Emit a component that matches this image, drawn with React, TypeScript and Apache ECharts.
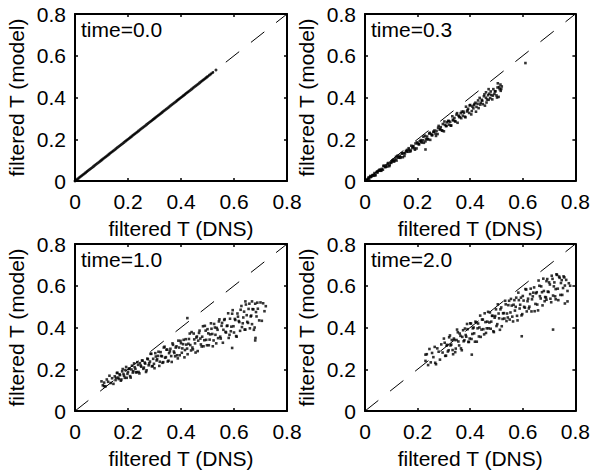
import React, { useEffect, useRef } from "react";
import * as echarts from "echarts";

const axisMin = 0;
const axisMax = 0.8;
const axisStep = 0.2;
const panelTitles = ["time=0.0", "time=0.3", "time=1.0", "time=2.0"];
const xName = "filtered T (DNS)";
const yName = "filtered T (model)";
const diagonal = [[0, 0], [0.8, 0.8]];

const t00: number[][] = [
  [0.000,0.000],[0.005,0.005],[0.010,0.010],[0.015,0.015],[0.020,0.020],[0.025,0.025],[0.030,0.030],[0.035,0.035],[0.040,0.040],[0.045,0.045],
  [0.050,0.050],[0.055,0.055],[0.060,0.060],[0.065,0.065],[0.070,0.070],[0.075,0.075],[0.080,0.080],[0.085,0.085],[0.090,0.090],[0.095,0.095],
  [0.100,0.100],[0.105,0.105],[0.110,0.110],[0.115,0.115],[0.120,0.120],[0.125,0.125],[0.130,0.130],[0.135,0.135],[0.140,0.140],[0.145,0.145],
  [0.150,0.150],[0.155,0.155],[0.160,0.160],[0.165,0.165],[0.170,0.170],[0.175,0.175],[0.180,0.180],[0.185,0.185],[0.190,0.190],[0.195,0.195],
  [0.200,0.200],[0.205,0.205],[0.210,0.210],[0.215,0.215],[0.220,0.220],[0.225,0.225],[0.230,0.230],[0.235,0.235],[0.240,0.240],[0.245,0.245],
  [0.250,0.250],[0.255,0.255],[0.260,0.260],[0.265,0.265],[0.270,0.270],[0.275,0.275],[0.280,0.280],[0.285,0.285],[0.290,0.290],[0.295,0.295],
  [0.300,0.300],[0.305,0.305],[0.310,0.310],[0.315,0.315],[0.320,0.320],[0.325,0.325],[0.330,0.330],[0.335,0.335],[0.340,0.340],[0.345,0.345],
  [0.350,0.350],[0.355,0.355],[0.360,0.360],[0.365,0.365],[0.370,0.370],[0.375,0.375],[0.380,0.380],[0.385,0.385],[0.390,0.390],[0.395,0.395],
  [0.400,0.400],[0.405,0.405],[0.410,0.410],[0.415,0.415],[0.420,0.420],[0.425,0.425],[0.430,0.430],[0.435,0.435],[0.440,0.440],[0.445,0.445],
  [0.450,0.450],[0.455,0.455],[0.460,0.460],[0.465,0.465],[0.470,0.470],[0.475,0.475],[0.480,0.480],[0.485,0.485],[0.490,0.490],[0.495,0.495],
  [0.500,0.500],[0.507,0.507],[0.513,0.513],[0.520,0.520],[0.532,0.532]
];

const t03a: number[][] = [
  [0.004,0.007],[0.008,0.005],[0.012,0.012],[0.016,0.009],[0.020,0.024],[0.024,0.021],[0.028,0.027],[0.032,0.025],[0.036,0.038],[0.040,0.028],
  [0.044,0.041],[0.048,0.041],[0.052,0.050],[0.056,0.055],[0.060,0.051],[0.064,0.058],[0.068,0.054],[0.072,0.073],[0.076,0.067],[0.080,0.075],
  [0.084,0.069],[0.088,0.086],[0.092,0.071],[0.096,0.088],[0.100,0.087],[0.104,0.098],[0.108,0.102],[0.112,0.096],[0.116,0.104],[0.120,0.098],
  [0.124,0.121],[0.128,0.113],[0.132,0.121],[0.136,0.114],[0.140,0.133],[0.144,0.114],[0.148,0.134],[0.152,0.132],[0.156,0.144],[0.160,0.149],
  [0.164,0.140],[0.168,0.150],[0.172,0.141],[0.176,0.169],[0.180,0.158],[0.184,0.167],[0.188,0.157],[0.192,0.180],[0.196,0.156],[0.200,0.180],
  [0.204,0.176],[0.208,0.190],[0.212,0.196],[0.216,0.184],[0.220,0.195],[0.224,0.183],[0.228,0.217],[0.232,0.202],[0.236,0.213],[0.240,0.200],
  [0.244,0.227],[0.248,0.197],[0.252,0.225],[0.256,0.220],[0.260,0.236],[0.264,0.242],[0.268,0.227],[0.272,0.240],[0.276,0.225],[0.280,0.264],
  [0.284,0.246],[0.288,0.258],[0.292,0.243],[0.296,0.273],[0.300,0.238],[0.304,0.269],[0.308,0.263],[0.312,0.281],[0.316,0.287],[0.320,0.270],
  [0.324,0.284],[0.328,0.266],[0.332,0.310],[0.336,0.290],[0.340,0.302],[0.344,0.285],[0.348,0.318],[0.352,0.279],[0.356,0.313],[0.360,0.305],
  [0.364,0.325],[0.368,0.332],[0.372,0.313],[0.376,0.327],[0.380,0.308],[0.384,0.356],[0.388,0.333],[0.392,0.346],[0.396,0.326],[0.400,0.364],
  [0.404,0.319],[0.408,0.357],[0.412,0.348],[0.416,0.369],[0.420,0.375],[0.424,0.355],[0.428,0.370],[0.432,0.349],[0.436,0.398],[0.440,0.375],
  [0.444,0.389],[0.448,0.368],[0.452,0.406],[0.456,0.361],[0.460,0.399],[0.464,0.390],[0.468,0.411],[0.472,0.418],[0.476,0.397],[0.480,0.412],
  [0.484,0.391],[0.488,0.440],[0.492,0.417],[0.496,0.430],[0.500,0.410],[0.504,0.448],[0.508,0.403],[0.512,0.440],[0.516,0.432],[0.520,0.453],
  [0.230,0.151],[0.610,0.565],[0.505,0.468],[0.515,0.462],[0.470,0.440],[0.460,0.425]
];

const t03b: number[][] = [
  [0.006,0.003],[0.014,0.018],[0.022,0.019],[0.030,0.029],[0.038,0.027],[0.046,0.046],[0.054,0.049],[0.062,0.049],[0.070,0.072],[0.078,0.067],
  [0.086,0.082],[0.094,0.076],[0.102,0.093],[0.110,0.093],[0.118,0.116],[0.126,0.112],[0.134,0.111],[0.142,0.131],[0.150,0.120],[0.158,0.141],
  [0.166,0.157],[0.174,0.146],[0.182,0.165],[0.190,0.150],[0.198,0.185],[0.206,0.176],[0.214,0.189],[0.222,0.212],[0.230,0.190],[0.238,0.200],
  [0.246,0.231],[0.254,0.219],[0.262,0.235],[0.270,0.216],[0.278,0.255],[0.286,0.250],[0.294,0.241],[0.302,0.285],[0.310,0.264],[0.318,0.288],
  [0.326,0.265],[0.334,0.294],[0.342,0.287],[0.350,0.325],[0.358,0.309],[0.366,0.301],[0.374,0.333],[0.382,0.305],[0.390,0.339],[0.398,0.362],
  [0.406,0.335],[0.414,0.363],[0.422,0.332],[0.430,0.386],[0.438,0.366],[0.446,0.384],[0.454,0.415],[0.462,0.376],[0.470,0.389],[0.478,0.429],
  [0.486,0.409],[0.494,0.429],[0.502,0.400],[0.510,0.450],[0.518,0.441]
];

const t10a: number[][] = [
  [0.100,0.142],[0.105,0.123],[0.110,0.136],[0.115,0.118],[0.120,0.151],[0.125,0.140],[0.130,0.169],[0.135,0.134],[0.140,0.157],[0.145,0.130],
  [0.150,0.166],[0.155,0.159],[0.160,0.183],[0.165,0.153],[0.170,0.172],[0.175,0.151],[0.180,0.201],[0.185,0.169],[0.190,0.196],[0.195,0.159],
  [0.200,0.187],[0.205,0.202],[0.210,0.160],[0.215,0.217],[0.220,0.191],[0.225,0.210],[0.230,0.185],[0.235,0.234],[0.240,0.187],[0.245,0.229],
  [0.250,0.212],[0.255,0.241],[0.260,0.208],[0.265,0.227],[0.270,0.195],[0.275,0.248],[0.280,0.228],[0.285,0.274],[0.290,0.214],[0.295,0.250],
  [0.300,0.205],[0.305,0.261],[0.310,0.248],[0.315,0.284],[0.320,0.236],[0.325,0.264],[0.330,0.231],[0.335,0.304],[0.340,0.255],[0.345,0.294],
  [0.350,0.237],[0.355,0.277],[0.360,0.298],[0.365,0.235],[0.370,0.317],[0.375,0.278],[0.380,0.304],[0.385,0.267],[0.390,0.337],[0.395,0.267],
  [0.400,0.325],[0.405,0.300],[0.410,0.341],[0.415,0.292],[0.420,0.318],[0.425,0.272],[0.430,0.345],[0.435,0.316],[0.440,0.378],[0.445,0.295],
  [0.450,0.343],[0.455,0.280],[0.460,0.357],[0.465,0.337],[0.470,0.385],[0.475,0.319],[0.480,0.356],[0.485,0.310],[0.490,0.408],[0.495,0.341],
  [0.500,0.392],[0.505,0.315],[0.510,0.367],[0.515,0.394],[0.520,0.310],[0.525,0.417],[0.530,0.365],[0.535,0.398],[0.540,0.349],[0.545,0.439],
  [0.550,0.347],[0.555,0.422],[0.560,0.389],[0.565,0.440],[0.570,0.376],[0.575,0.409],[0.580,0.350],[0.585,0.442],[0.590,0.404],[0.595,0.483],
  [0.600,0.376],[0.605,0.436],[0.610,0.356],[0.615,0.452],[0.620,0.426],[0.625,0.485],[0.630,0.402],[0.635,0.448],[0.640,0.390],[0.645,0.510],
  [0.650,0.427],[0.655,0.489],[0.660,0.396],[0.665,0.457],[0.670,0.488],[0.675,0.389],[0.680,0.514],[0.685,0.453],[0.690,0.490],[0.695,0.434],
  [0.700,0.520],[0.705,0.432],[0.710,0.516],[0.715,0.478],[0.720,0.502],
  [0.424,0.445],[0.643,0.525],[0.668,0.525],[0.593,0.302],[0.681,0.350],[0.680,0.338],[0.110,0.119]
];

const t10b: number[][] = [
  [0.153,0.148],[0.158,0.182],[0.163,0.160],[0.168,0.176],[0.173,0.145],[0.178,0.190],[0.183,0.177],[0.188,0.159],[0.193,0.211],[0.198,0.178],
  [0.203,0.203],[0.208,0.167],[0.213,0.199],[0.218,0.184],[0.223,0.228],[0.228,0.202],[0.233,0.186],[0.238,0.221],[0.243,0.180],[0.248,0.218],
  [0.253,0.242],[0.258,0.202],[0.263,0.232],[0.268,0.187],[0.273,0.251],[0.278,0.219],[0.283,0.237],[0.288,0.274],[0.293,0.215],[0.298,0.226],
  [0.303,0.277],[0.308,0.242],[0.313,0.264],[0.318,0.216],[0.323,0.282],[0.328,0.262],[0.333,0.234],[0.338,0.308],[0.343,0.258],[0.348,0.294],
  [0.353,0.241],[0.358,0.286],[0.363,0.263],[0.368,0.324],[0.373,0.285],[0.378,0.262],[0.383,0.310],[0.388,0.252],[0.393,0.304],[0.398,0.336],
  [0.403,0.279],[0.408,0.320],[0.413,0.257],[0.418,0.344],[0.423,0.299],[0.428,0.322],[0.433,0.371],[0.438,0.290],[0.443,0.304],[0.448,0.371],
  [0.453,0.324],[0.458,0.352],[0.463,0.287],[0.468,0.374],[0.473,0.347],[0.478,0.309],[0.483,0.406],[0.488,0.339],[0.493,0.385],[0.498,0.315],
  [0.503,0.372],[0.508,0.342],[0.513,0.420],[0.518,0.369],[0.523,0.338],[0.528,0.400],[0.533,0.324],[0.538,0.389],[0.543,0.429],[0.548,0.356],
  [0.553,0.408],[0.558,0.327],[0.563,0.436],[0.568,0.379],[0.573,0.407],[0.578,0.468],[0.583,0.365],[0.588,0.382],[0.593,0.466],[0.598,0.406],
  [0.603,0.441],[0.608,0.359],[0.613,0.467],[0.618,0.431],[0.623,0.384],[0.628,0.503],[0.633,0.420],[0.638,0.476],[0.643,0.390],[0.648,0.459],
  [0.653,0.422],[0.658,0.514],[0.663,0.453],[0.668,0.416],[0.673,0.487],[0.678,0.400],[0.683,0.474],[0.688,0.519]
];

const t20a: number[][] = [
  [0.230,0.240],[0.235,0.272],[0.240,0.220],[0.245,0.297],[0.250,0.233],[0.255,0.278],[0.260,0.258],[0.265,0.307],[0.270,0.224],[0.275,0.300],
  [0.280,0.284],[0.285,0.246],[0.290,0.319],[0.295,0.280],[0.300,0.347],[0.305,0.264],[0.310,0.313],[0.315,0.285],[0.320,0.353],[0.325,0.314],
  [0.330,0.340],[0.335,0.272],[0.340,0.340],[0.345,0.299],[0.350,0.390],[0.355,0.333],[0.360,0.371],[0.365,0.300],[0.370,0.355],[0.375,0.334],
  [0.380,0.395],[0.385,0.356],[0.390,0.392],[0.395,0.331],[0.400,0.420],[0.405,0.345],[0.410,0.396],[0.415,0.372],[0.420,0.428],[0.425,0.332],
  [0.430,0.419],[0.435,0.400],[0.440,0.355],[0.445,0.438],[0.450,0.392],[0.455,0.468],[0.460,0.374],[0.465,0.428],[0.470,0.396],[0.475,0.472],
  [0.480,0.428],[0.485,0.456],[0.490,0.378],[0.495,0.455],[0.500,0.407],[0.505,0.511],[0.510,0.444],[0.515,0.487],[0.520,0.406],[0.525,0.468],
  [0.530,0.443],[0.535,0.511],[0.540,0.467],[0.545,0.507],[0.550,0.438],[0.555,0.537],[0.560,0.452],[0.565,0.509],[0.570,0.481],[0.575,0.543],
  [0.580,0.434],[0.585,0.531],[0.590,0.509],[0.595,0.458],[0.600,0.551],[0.605,0.499],[0.610,0.584],[0.615,0.477],[0.620,0.538],[0.625,0.500],
  [0.630,0.586],[0.635,0.535],[0.640,0.567],[0.645,0.478],[0.650,0.564],[0.655,0.510],[0.660,0.625],[0.665,0.550],[0.670,0.597],[0.675,0.506],
  [0.680,0.575],[0.685,0.546],[0.690,0.622],[0.695,0.572],[0.700,0.616],[0.705,0.538],[0.710,0.648],[0.715,0.553],[0.720,0.616],[0.725,0.584],
  [0.730,0.652],[0.735,0.531],[0.740,0.638],[0.745,0.613],[0.750,0.556],[0.755,0.645],[0.760,0.601],[0.765,0.628],[0.770,0.575],[0.775,0.612],
  [0.780,0.600],
  [0.715,0.390],[0.596,0.358],[0.406,0.270],[0.267,0.231],[0.230,0.270],[0.770,0.525],[0.690,0.533],[0.725,0.535],[0.760,0.515]
];

const t20b: number[][] = [
  [0.303,0.327],[0.308,0.265],[0.313,0.317],[0.318,0.291],[0.323,0.362],[0.328,0.318],[0.333,0.292],[0.338,0.347],[0.343,0.282],[0.348,0.340],
  [0.353,0.377],[0.358,0.314],[0.363,0.360],[0.368,0.291],[0.373,0.387],[0.378,0.339],[0.383,0.364],[0.388,0.417],[0.393,0.331],[0.398,0.347],
  [0.403,0.419],[0.408,0.369],[0.413,0.400],[0.418,0.332],[0.423,0.424],[0.428,0.396],[0.433,0.357],[0.438,0.457],[0.443,0.390],[0.448,0.438],
  [0.453,0.367],[0.458,0.426],[0.463,0.396],[0.468,0.475],[0.473,0.424],[0.478,0.394],[0.483,0.456],[0.488,0.382],[0.493,0.447],[0.498,0.487],
  [0.503,0.416],[0.508,0.467],[0.513,0.389],[0.518,0.496],[0.523,0.441],[0.528,0.469],[0.533,0.528],[0.538,0.431],[0.543,0.448],[0.548,0.528],
  [0.553,0.472],[0.558,0.505],[0.563,0.429],[0.568,0.531],[0.573,0.499],[0.578,0.456],[0.583,0.567],[0.588,0.491],[0.593,0.543],[0.598,0.464],
  [0.603,0.529],[0.608,0.495],[0.613,0.582],[0.618,0.526],[0.623,0.491],[0.628,0.560],[0.633,0.477],[0.638,0.549],[0.643,0.592],[0.648,0.513],
  [0.653,0.569],[0.658,0.482],[0.663,0.600],[0.668,0.539],[0.673,0.569],[0.678,0.634],[0.683,0.526],[0.688,0.544],[0.693,0.632],[0.698,0.570],
  [0.703,0.606],[0.708,0.521],[0.713,0.633],[0.718,0.597],[0.723,0.549],[0.728,0.655],[0.733,0.586],[0.738,0.644],[0.743,0.556],[0.748,0.627],
  [0.753,0.589],[0.758,0.640]
];

const panelData = [t00, t03a.concat(t03b), t10a.concat(t10b), t20a.concat(t20b)];

const FONT = "'Liberation Sans', Arial, Helvetica, sans-serif";
const FS = 21;

const grids = [
  { left: 75, top: 14, width: 212, height: 167 },
  { left: 365, top: 14, width: 213, height: 167 },
  { left: 75, top: 244, width: 212, height: 167 },
  { left: 365, top: 244, width: 213, height: 167 },
];

function fmt(v: number) {
  return v === 0 ? "0" : String(Math.round(v * 10) / 10);
}

export default function App() {
  const ref = useRef<HTMLDivElement>(null);
  useEffect(() => {
    if (!ref.current) return;
    const chart = echarts.init(ref.current, undefined, { renderer: "svg" });
    const axisLine = { show: true, onZero: false, lineStyle: { color: "#000", width: 2 } };
    const axisTick = { show: true, inside: true, length: 3, lineStyle: { color: "#000", width: 1.5 } };
    const xAxes: any[] = [];
    const yAxes: any[] = [];
    const series: any[] = [];
    grids.forEach((g, i) => {
      xAxes.push({
        type: "value", gridIndex: i, position: "bottom", min: axisMin, max: axisMax, interval: axisStep,
        axisLine, axisTick, splitLine: { show: false },
        axisLabel: { show: true, margin: 10, color: "#000", fontSize: FS, fontFamily: FONT, formatter: fmt },
        name: xName, nameLocation: "middle", nameGap: 37,
        nameTextStyle: { color: "#000", fontSize: FS, fontFamily: FONT },
      });
      xAxes.push({
        type: "value", gridIndex: i, position: "top", min: axisMin, max: axisMax, interval: axisStep,
        axisLine, axisTick, splitLine: { show: false }, axisLabel: { show: false },
      });
      yAxes.push({
        type: "value", gridIndex: i, position: "left", min: axisMin, max: axisMax, interval: axisStep,
        axisLine, axisTick, splitLine: { show: false },
        axisLabel: { show: true, margin: 9, color: "#000", fontSize: FS, fontFamily: FONT, formatter: fmt },
        name: yName, nameLocation: "middle", nameGap: 48,
        nameTextStyle: { color: "#000", fontSize: FS, fontFamily: FONT },
      });
      yAxes.push({
        type: "value", gridIndex: i, position: "right", min: axisMin, max: axisMax, interval: axisStep,
        axisLine, axisTick, splitLine: { show: false }, axisLabel: { show: false },
      });
      series.push({
        type: "line", xAxisIndex: 2 * i, yAxisIndex: 2 * i, data: diagonal, showSymbol: false, symbol: "none",
        lineStyle: { color: "#000", width: 1, type: [17, 15] }, silent: true, z: 1,
      });
      series.push({
        type: "scatter", xAxisIndex: 2 * i, yAxisIndex: 2 * i, data: panelData[i],
        symbol: i === 0 ? "circle" : "rect", symbolSize: i === 0 ? 3 : 2.6,
        itemStyle: { color: "#000" }, silent: true, z: 2,
      });
    });
    chart.setOption({
      animation: false,
      backgroundColor: "#fff",
      grid: grids.map((g) => ({ ...g, containLabel: false })),
      xAxis: xAxes,
      yAxis: yAxes,
      series,
      graphic: panelTitles.map((t, i) => ({
        type: "text",
        left: grids[i].left + 6,
        top: grids[i].top + 5,
        style: { text: t, fontSize: FS, fontFamily: FONT, fill: "#000" },
        z: 10,
      })),
    });
    return () => chart.dispose();
  }, []);
  return (
    <div
      ref={ref}
      style={{ position: "absolute", left: 0, top: 0, width: 593, height: 470, background: "#fff" }}
    />
  );
}
